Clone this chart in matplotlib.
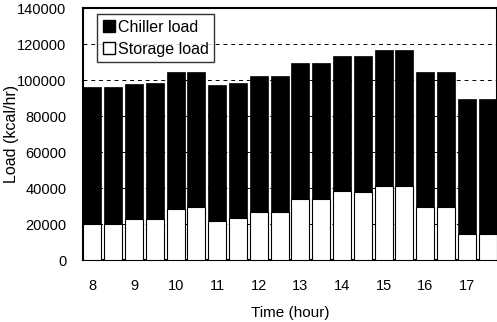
import matplotlib
matplotlib.use("Agg")
import matplotlib.pyplot as plt
import numpy as np
from matplotlib.patches import Patch

hours = [8, 9, 10, 11, 12, 13, 14, 15, 16, 17]
total_load = [96100, 96000, 97800, 98100, 104300, 104300, 97200, 98100,
              102000, 102000, 109400, 109400, 113500, 113300, 116500, 116500,
              104600, 104400, 89600, 89600]
storage_load = [19800, 19800, 22600, 23000, 28300, 29600, 21500, 23500,
                26800, 26800, 34100, 34100, 38300, 37600, 41300, 41300,
                29300, 29300, 14400, 14400]
chiller_load = [t - s for t, s in zip(total_load, storage_load)]

plt.rcParams['font.family'] = ['Liberation Sans', 'DejaVu Sans']

fig = plt.figure(figsize=(4.97, 3.22), dpi=100)
ax = fig.add_axes([83/497, 1-260/322, 1-83/497, (260-8)/322])

x = np.arange(len(total_load))
w = 0.87
ax.bar(x, storage_load, width=w, color='white', edgecolor='black', linewidth=0.8, zorder=3)
ax.bar(x, chiller_load, bottom=storage_load, width=w, color='black', edgecolor='black', linewidth=0.5, zorder=3)

ax.set_xlim(-0.45, len(total_load) - 0.55)
ax.set_ylim(0, 140000)
ax.set_yticks(range(0, 140001, 20000))
ax.set_xticks(x[::2])
ax.set_xticklabels([str(h) for h in hours])
ax.tick_params(axis='x', length=0, pad=14, labelsize=10.5)
ax.tick_params(axis='y', length=0, pad=12, labelsize=10.5)
ax.yaxis.grid(True, linestyle=(0, (4, 4)), color='black', linewidth=0.7, zorder=0)
for s in ax.spines.values():
    s.set_linewidth(1.5)

ax.set_xlabel('Time (hour)', fontsize=11, labelpad=9)
ax.set_ylabel('Load (kcal/hr)', fontsize=11.5)
ax.yaxis.set_label_coords(-0.155, 0.5)

handles = [Patch(facecolor='black', edgecolor='black', label='Chiller load'),
           Patch(facecolor='white', edgecolor='black', label='Storage load')]
leg = ax.legend(handles=handles, loc='upper left', bbox_to_anchor=(0.034, 0.976),
                fontsize=11.5, frameon=True, fancybox=False, handlelength=0.75,
                handleheight=0.8, handletextpad=0.2, borderpad=0.35, labelspacing=0.45,
                borderaxespad=0)
leg.get_frame().set_edgecolor('black')
leg.get_frame().set_linewidth(1.0)
leg.set_zorder(5)

fig.savefig('out.png', dpi=100)
